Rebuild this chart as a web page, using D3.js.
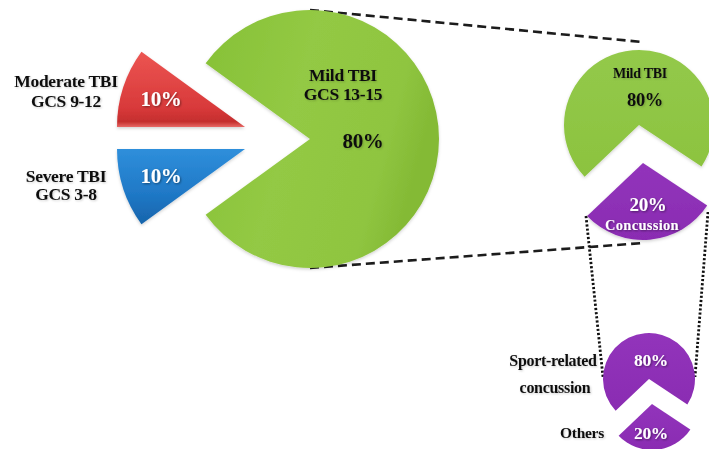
<!DOCTYPE html>
<html>
<head>
<meta charset="utf-8">
<script src="https://cdn.jsdelivr.net/npm/d3@7"></script>
<style>
  html, body { margin: 0; padding: 0; background: #ffffff; }
  svg { display: block; }
  text { font-family: "Liberation Serif", "Times New Roman", serif; font-weight: bold; }
</style>
</head>
<body>
<svg id="chart" width="709" height="449"></svg>
<script>
// ---- data ----
const severityCategories = ["Mild TBI", "Moderate TBI", "Severe TBI"];
const severityGCS = ["GCS 13-15", "GCS 9-12", "GCS 3-8"];
const severityValues = [80, 10, 10];

const mildCategories = ["Mild TBI", "Concussion"];
const mildValues = [80, 20];

const concussionCategories = ["Sport-related concussion", "Others"];
const concussionValues = [80, 20];

// ---- setup ----
const svg = d3.select("#chart");
const deg = Math.PI / 180;
const defs = svg.append("defs");

function grad(id, stops, x2, y2) {
  const g = defs.append("linearGradient").attr("id", id)
    .attr("x1", 0).attr("y1", 0).attr("x2", x2).attr("y2", y2);
  stops.forEach(s => g.append("stop").attr("offset", s[0]).attr("stop-color", s[1]));
}
grad("gGreen", [[0, "#86c136"], [0.45, "#93c944"], [0.85, "#8fc540"], [1, "#84ba35"]], 1, 0.3);
grad("gGreenS", [[0, "#93c94a"], [1, "#8cc33f"]], 0, 1);
grad("gRed", [[0, "#ec5552"], [0.75, "#d8393a"], [0.93, "#c42e2e"], [1, "#e86a66"]], 0, 1);
grad("gBlue", [[0, "#2f8fdb"], [0.6, "#1f78c6"], [1, "#1764ab"]], 0, 1);
grad("gPurple", [[0, "#9234bb"], [1, "#8a2cb2"]], 0, 1);

const f = defs.append("filter").attr("id", "shadow").attr("x", "-20%").attr("y", "-20%").attr("width", "140%").attr("height", "140%");
f.append("feDropShadow").attr("dx", 1).attr("dy", 1).attr("stdDeviation", 0.8).attr("flood-color", "#000").attr("flood-opacity", 0.45);
const f2 = defs.append("filter").attr("id", "lshadow").attr("x", "-20%").attr("y", "-20%").attr("width", "140%").attr("height", "140%");
f2.append("feDropShadow").attr("dx", 1).attr("dy", 1).attr("stdDeviation", 0.8).attr("flood-color", "#000").attr("flood-opacity", 0.2);

const sliceShadow = defs.append("filter").attr("id", "sshadow").attr("x", "-20%").attr("y", "-20%").attr("width", "140%").attr("height", "140%");
sliceShadow.append("feDropShadow").attr("dx", 0).attr("dy", 1.5).attr("stdDeviation", 1.5).attr("flood-color", "#000").attr("flood-opacity", 0.18);

// ---- connector lines (behind pies) ----
const lines = svg.append("g");
const dashed = [
  [[310, 10], [642, 42]],
  [[310, 268], [643, 243]]
];
dashed.forEach(p => lines.append("path").attr("d", d3.line()(p))
  .attr("stroke", "#1c1c1c").attr("stroke-width", 2.6).attr("fill", "none")
  .attr("stroke-dasharray", "9,5"));
const dotted = [
  [[586, 216], [603, 377]],
  [[708, 212], [695, 377]]
];
dotted.forEach(p => lines.append("path").attr("d", d3.line()(p))
  .attr("stroke", "#111").attr("stroke-width", 2.8).attr("fill", "none")
  .attr("stroke-dasharray", "2.2,2"));

// ---- big pie: severity ----
const bigPie = d3.pie().sort(null)
  .startAngle(234 * deg).endAngle((234 - 360) * deg)(severityValues);
const bigR = 129;
const bigFill = ["url(#gGreen)", "url(#gRed)", "url(#gBlue)"];
const bigPos = [[310, 139], [245, 127], [245, 149]];

const pies = svg.append("g");
bigPie.forEach((d, i) => {
  pies.append("path")
    .attr("transform", `translate(${bigPos[i][0]},${bigPos[i][1]})`)
    .attr("d", d3.arc().innerRadius(0).outerRadius(i === 0 ? bigR : 128)(d))
    .attr("fill", bigFill[i])
    .attr("filter", "url(#sshadow)");
});

// ---- zoomed pies: visual wedge angle scale for the schematic breakdowns ----
const wedgeScale = d3.scaleLinear().domain([20, 80]).range([103, 257]);
function zoomPie(values) {
  return d3.pie().sort(null).value(v => wedgeScale(v))
    .startAngle(226.5 * deg).endAngle(586.5 * deg)(values);
}

// Mild TBI breakdown
const mildPie = zoomPie(mildValues);
const mildPos = [[639, 125], [643, 163]];
const mildR = [75, 77];
const mildFill = ["url(#gGreenS)", "url(#gPurple)"];
mildPie.forEach((d, i) => {
  pies.append("path")
    .attr("transform", `translate(${mildPos[i][0]},${mildPos[i][1]})`)
    .attr("d", d3.arc().innerRadius(0).outerRadius(mildR[i])(d))
    .attr("fill", mildFill[i])
    .attr("filter", "url(#sshadow)");
});

// Concussion breakdown
const concPie = zoomPie(concussionValues);
const concPos = [[649, 379], [652, 404]];
const concR = [46, 46];
concPie.forEach((d, i) => {
  pies.append("path")
    .attr("transform", `translate(${concPos[i][0]},${concPos[i][1]})`)
    .attr("d", d3.arc().innerRadius(0).outerRadius(concR[i])(d))
    .attr("fill", "url(#gPurple)");
});

// ---- labels (on top) ----
function label(g, x, y, str, size, color, anchor, shadow) {
  return g.append("text").attr("x", x).attr("y", y).text(str)
    .attr("font-size", size).attr("fill", color)
    .attr("text-anchor", anchor || "middle")
    .attr("letter-spacing", "-0.3")
    .attr("filter", shadow ? "url(#shadow)" : "url(#lshadow)");
}
const T = svg.append("g");
label(T, 343, 81, severityCategories[0], 17.5, "#111");
label(T, 343, 100, severityGCS[0], 17.5, "#111");
label(T, 363, 148, severityValues[0] + "%", 21, "#111");

label(T, 66, 87, severityCategories[1], 17.5, "#111");
label(T, 66, 107, severityGCS[1], 17.5, "#111");
label(T, 161, 106, severityValues[1] + "%", 21, "#fff", "middle", true);

label(T, 66, 182, severityCategories[2], 17.5, "#111");
label(T, 66, 200, severityGCS[2], 17.5, "#111");
label(T, 161, 183, severityValues[2] + "%", 21, "#fff", "middle", true);

label(T, 640, 78, mildCategories[0], 14, "#111");
label(T, 645, 106, mildValues[0] + "%", 18.5, "#111");
label(T, 648, 211, mildValues[1] + "%", 19, "#fff", "middle", true);
label(T, 642, 230, mildCategories[1], 14.5, "#fff", "middle", true).attr("letter-spacing", "0.3");

label(T, 651, 366, concussionValues[0] + "%", 17.5, "#fff", "middle", true);
label(T, 651, 439, concussionValues[1] + "%", 17.5, "#fff", "middle", true);
const words = concussionCategories[0].split(" ");
label(T, 553, 366, words[0], 16, "#111");
label(T, 555, 393, words[1], 16, "#111");
label(T, 582, 438, concussionCategories[1], 15.5, "#111");
</script>
</body>
</html>
